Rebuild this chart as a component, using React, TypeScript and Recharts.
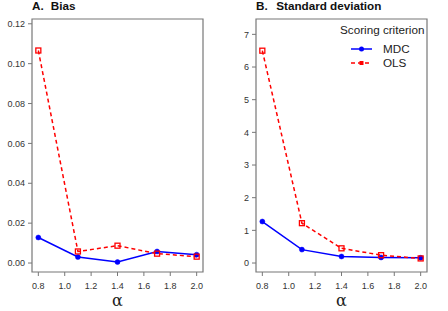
import React from 'react';
import { LineChart, Line, XAxis, YAxis, ReferenceArea } from 'recharts';

// alpha values on the x axis
const alpha = [0.8, 1.1, 1.4, 1.7, 2.0];
const xTicks = [0.8, 1.0, 1.2, 1.4, 1.6, 1.8, 2.0];

// panel A: bias
const biasMDC = [0.0128, 0.003, 0.0005, 0.0058, 0.0042];
const biasOLS = [0.1066, 0.0058, 0.0087, 0.0047, 0.0032];
const biasTicks = [0, 0.02, 0.04, 0.06, 0.08, 0.1, 0.12];

// panel B: standard deviation
const sdMDC = [1.27, 0.41, 0.2, 0.17, 0.16];
const sdOLS = [6.5, 1.22, 0.45, 0.24, 0.14];
const sdTicks = [0, 1, 2, 3, 4, 5, 6, 7];

const FONT = '"Liberation Sans", Arial, Helvetica, sans-serif';
const BLUE = '#0000ff';
const RED = '#ff0000';
const FRAME = '#777777';
const X_DOMAIN: [number, number] = [0.752, 2.048];

const OlsDot = (props: any) => {
  const { cx, cy, index } = props;
  if (cx == null || cy == null) return null;
  return <rect key={`ols-${index}`} x={cx - 2.5} y={cy - 2.5} width={5} height={5} fill="none" stroke={RED} strokeWidth={1.3} />;
};

// legend drawn in the top-right of panel B
const LegendBox = () => (
  <svg width={92} height={48} style={{ position: 'absolute', left: 116, top: 22, fontFamily: FONT, overflow: 'visible' }}>
    <text x={0} y={12} fontSize={11.7} fill="#222">Scoring criterion</text>
    <line x1={11} x2={32} y1={27} y2={27} stroke={BLUE} strokeWidth={1.5} />
    <circle cx={21.5} cy={27} r={2.5} fill={BLUE} />
    <text x={43} y={31.2} fontSize={11.7} fill="#222">MDC</text>
    <line x1={11} x2={32} y1={41} y2={41} stroke={RED} strokeWidth={1.5} strokeDasharray="4 3" />
    <rect x={19.5} y={39} width={4} height={4} fill={RED} />
    <text x={43} y={45.2} fontSize={11.7} fill="#222">OLS</text>
  </svg>
);

interface PanelProps {
  letter: string;
  title: string;
  gap: number;
  mdc: number[];
  ols: number[];
  yTicks: number[];
  yDomain: [number, number];
  yFmt: (v: number) => string;
  legend?: boolean;
}

const Panel: React.FC<PanelProps> = ({ letter, title, gap, mdc, ols, yTicks, yDomain, yFmt, legend }) => {
  const data = alpha.map((a, i) => ({ alpha: a, mdc: mdc[i], ols: ols[i] }));
  return (
    <div style={{ position: 'relative', width: 224, height: 311 }}>
      <div style={{ position: 'absolute', left: 32, top: -1.5, fontSize: 11.7, fontWeight: 'bold', whiteSpace: 'nowrap', color: '#111', fontFamily: FONT }}>
        <span>{letter}</span>
        <span style={{ marginLeft: gap }}>{title}</span>
      </div>
      <LineChart width={224} height={311} data={data} margin={{ top: 19, right: 21, left: 0, bottom: 0 }}>
        <XAxis
          dataKey="alpha"
          type="number"
          domain={X_DOMAIN}
          ticks={xTicks}
          allowDataOverflow
          tickFormatter={(v: number) => v.toFixed(1)}
          axisLine={false}
          tickLine={{ stroke: FRAME }}
          tickSize={4}
          tickMargin={7}
          height={39}
          tick={{ fill: '#333', fontSize: 9, fontFamily: FONT }}
          label={{ value: 'α', position: 'insideBottom', offset: 5, style: { fontSize: 16, fill: '#222', fontFamily: '"DejaVu Serif", serif' } }}
        />
        <YAxis
          type="number"
          domain={yDomain}
          ticks={yTicks}
          allowDataOverflow
          tickFormatter={yFmt}
          axisLine={false}
          tickLine={{ stroke: FRAME }}
          tickSize={4}
          tickMargin={3}
          width={32}
          tick={{ fill: '#333', fontSize: 9, fontFamily: FONT }}
        />
        <ReferenceArea x1={X_DOMAIN[0]} x2={X_DOMAIN[1]} y1={yDomain[0]} y2={yDomain[1]} fill="none" stroke={FRAME} strokeWidth={1.2} ifOverflow="visible" />
        <Line dataKey="mdc" stroke={BLUE} strokeWidth={1.5} dot={{ r: 2.5, fill: BLUE, stroke: BLUE, strokeWidth: 0.5 }} isAnimationActive={false} />
        <Line dataKey="ols" stroke={RED} strokeWidth={1.5} strokeDasharray="4 3" dot={OlsDot} isAnimationActive={false} />
      </LineChart>
      {legend && <LegendBox />}
    </div>
  );
};

export default function App() {
  return (
    <div style={{ position: 'absolute', left: 0, top: 0, width: 448, height: 311, background: '#fff', display: 'flex', fontFamily: FONT }}>
      <Panel letter="A." title="Bias" gap={7} mdc={biasMDC} ols={biasOLS} yTicks={biasTicks} yDomain={[-0.0045, 0.1224]} yFmt={(v) => v.toFixed(2)} />
      <Panel letter="B." title="Standard deviation" gap={8.5} mdc={sdMDC} ols={sdOLS} yTicks={sdTicks} yDomain={[-0.275, 7.47]} yFmt={(v) => String(v)} legend />
    </div>
  );
}
